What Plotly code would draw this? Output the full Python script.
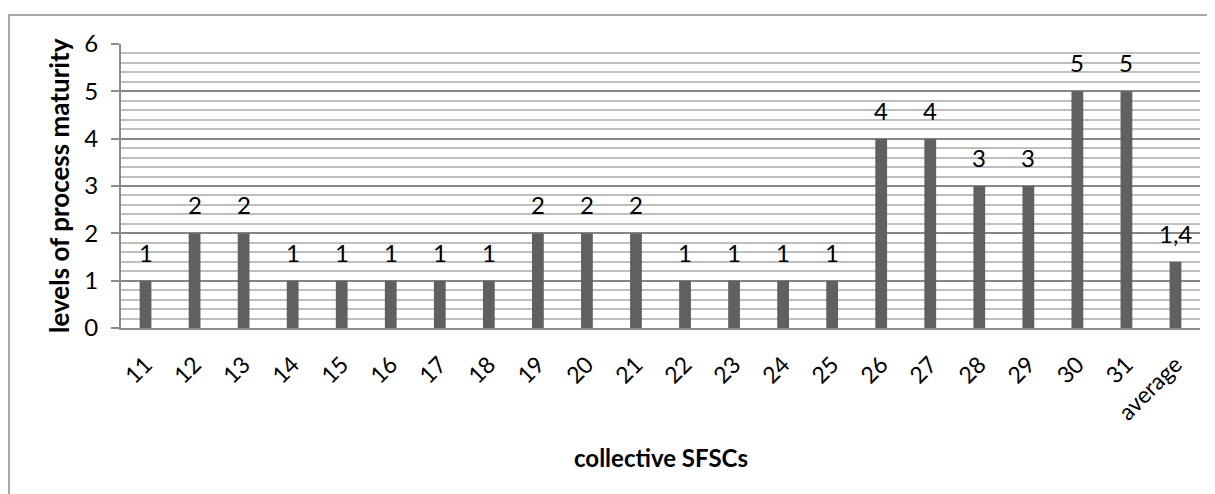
import plotly.graph_objects as go

categories = ["11","12","13","14","15","16","17","18","19","20","21","22","23","24","25","26","27","28","29","30","31","average"]
values = [1,2,2,1,1,1,1,1,2,2,2,1,1,1,1,4,4,3,3,5,5,1.4]
labels = [str(v).replace('.', ',') for v in values]

FONT = "Lato"
OFF = 8  # browser body margin
W, H = 1215 - OFF, 494 - OFF
# plot area in page pixels: x 121..1200, y 44..328
PX0, PX1, PY0, PY1 = 121, 1200, 44, 328
L, R, T = PX0 - OFF, W - (PX1 - OFF), PY0 - OFF
B = H - (PY1 - OFF)
pw, ph = PX1 - PX0, PY1 - PY0

def px_x(x):
    return (x - PX0) / pw

def px_y(y):
    return (PY1 - y) / ph

fig = go.Figure()
fig.add_trace(go.Bar(
    x=list(range(len(categories))), y=values,
    marker=dict(color="#606060", line=dict(width=0)),
    width=0.24,
    hoverinfo="skip",
))

for i, (v, t) in enumerate(zip(values, labels)):
    fig.add_annotation(x=i, y=v, text=t, showarrow=False, xanchor="center", yanchor="bottom",
                       yshift=12, font=dict(family=FONT, size=24, color="black"))

# axis titles
fig.add_annotation(xref="paper", yref="paper", x=px_x(661), y=px_y(457),
                   xanchor="center", yanchor="middle",
                   text="<b>collective SFSCs</b>", showarrow=False,
                   font=dict(family=FONT, size=24, color="black"))
fig.add_annotation(xref="paper", yref="paper", x=px_x(59), y=px_y(186),
                   xanchor="center", yanchor="middle",
                   text="<b>levels of process maturity</b>", showarrow=False, textangle=-90,
                   font=dict(family=FONT, size=26, color="black"))

# outer border
fig.add_shape(type="rect", xref="paper", yref="paper",
              x0=px_x(9), x1=px_x(1214), y0=px_y(520), y1=px_y(15),
              line=dict(color="#8c8c8c", width=1.5), layer="below")

fig.update_layout(
    width=W, height=H,
    margin=dict(l=L, r=R, t=T, b=B, autoexpand=False),
    plot_bgcolor="white", paper_bgcolor="white",
    showlegend=False,
    font=dict(family=FONT, size=24, color="black"),
)
fig.update_xaxes(
    automargin=False,
    tickmode="array", tickvals=list(range(len(categories))), ticktext=categories,
    range=[-0.5, len(categories) - 0.5],
    tickangle=-45,
    showline=True, linecolor="#8c8c8c", linewidth=2,
    showgrid=False, ticks="", zeroline=False,
    tickfont=dict(family=FONT, size=23, color="black"),
    ticklabelstandoff=12,
)
fig.update_yaxes(
    automargin=False,
    range=[0, 6], dtick=1, tick0=0,
    showline=True, linecolor="#8c8c8c", linewidth=2,
    showgrid=True, gridcolor="#868686", gridwidth=2,
    ticks="outside", ticklen=8, tickcolor="#8c8c8c", tickwidth=2,
    tickfont=dict(family=FONT, size=24, color="black"),
    ticklabelstandoff=8,
    zeroline=False,
    minor=dict(dtick=0.2, showgrid=True, gridcolor="#bfbfbf", gridwidth=2, ticks=""),
)

fig.write_html("out.html")
